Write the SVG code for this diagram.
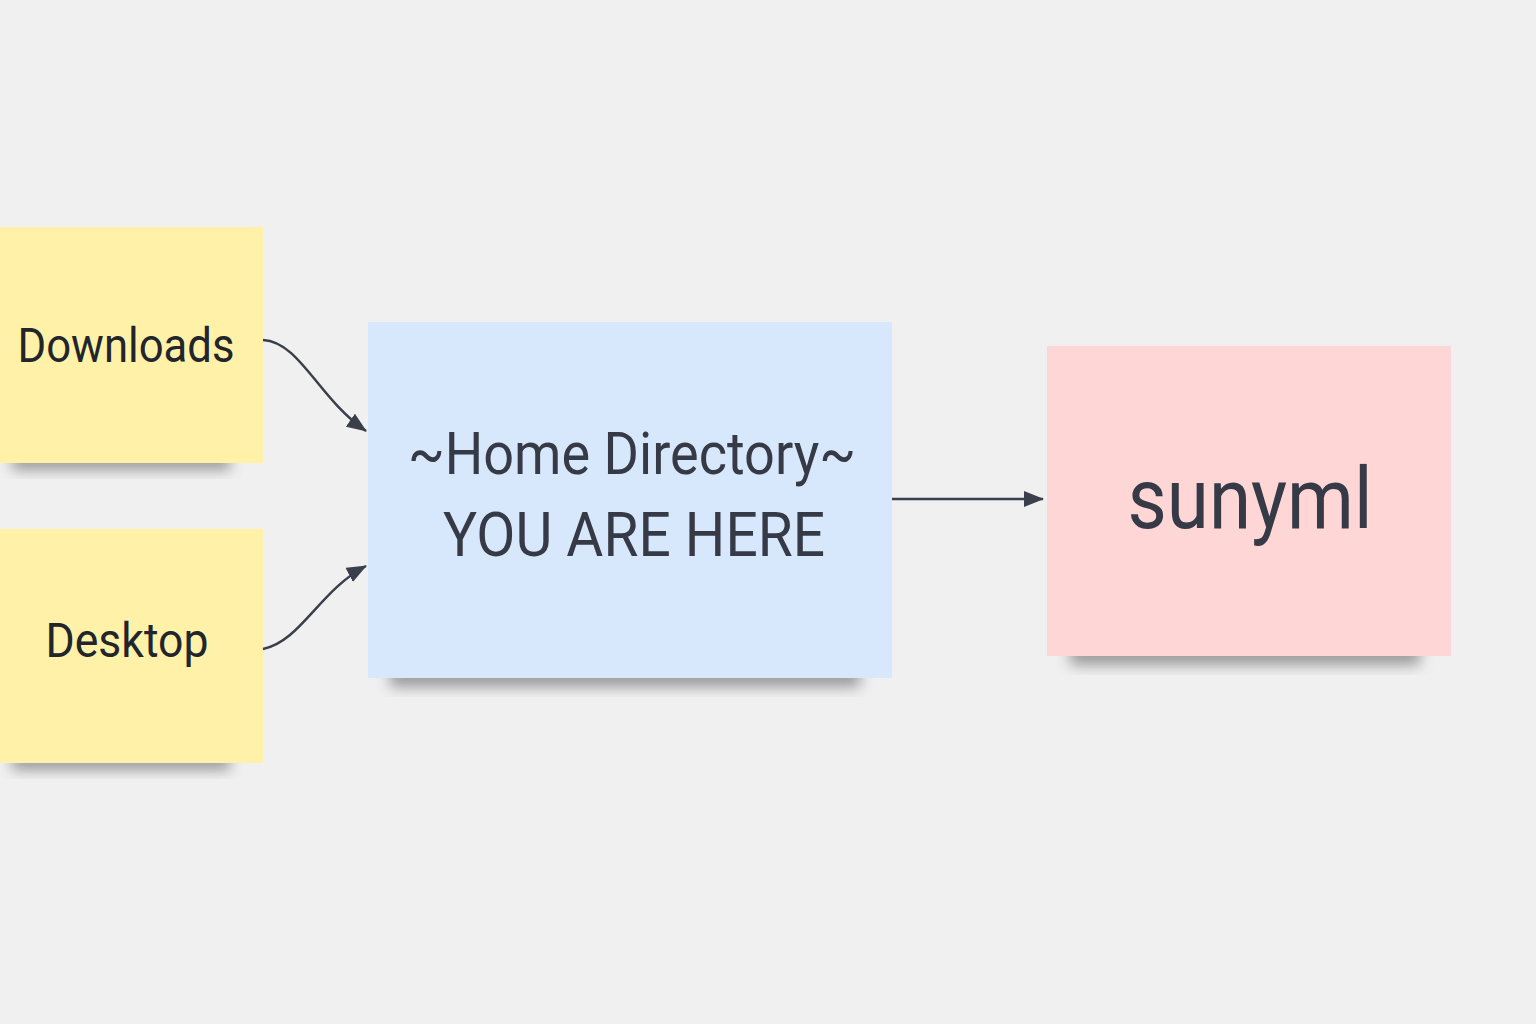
<svg xmlns="http://www.w3.org/2000/svg" width="1536" height="1024" viewBox="0 0 1536 1024">
<defs>
<style>
.lbl{font-family:Roboto,"Liberation Sans",sans-serif;fill:#353a46;text-anchor:middle}
.dark{fill:#22252b}
.con{fill:none;stroke:#3a3f4b;stroke-width:2.5}
.shd{fill:#444;opacity:0.5}
</style>
<filter id="sh" x="-20%" y="-50%" width="140%" height="200%">
<feGaussianBlur stdDeviation="7"/>
</filter>
<marker id="ah" viewBox="0 0 20 16" refX="19" refY="8" markerWidth="20" markerHeight="16" markerUnits="userSpaceOnUse" orient="auto">
<path d="M0,0 L20,8 L0,16 z" fill="#3a3f4b"/>
</marker>
</defs>
<rect width="1536" height="1024" fill="#f0f0f0"/>
<g id="downloads">
<rect x="12" y="452" width="218" height="18" class="shd" filter="url(#sh)"/>
<rect x="0" y="227" width="263" height="236" fill="#fff2a8"/>
<text class="lbl dark" x="126" y="362" font-size="49" textLength="217" lengthAdjust="spacingAndGlyphs">Downloads</text>
</g>
<g id="desktop">
<rect x="12" y="752" width="218" height="18" class="shd" filter="url(#sh)"/>
<rect x="0" y="529" width="263" height="234" fill="#fff2a8"/>
<text class="lbl dark" x="127" y="657" font-size="49" textLength="163" lengthAdjust="spacingAndGlyphs">Desktop</text>
</g>
<g id="home">
<rect x="390" y="667" width="470" height="20" class="shd" filter="url(#sh)"/>
<rect x="368" y="322" width="524" height="356" fill="#d7e8fc"/>
<text class="lbl" x="632" y="474" font-size="60" textLength="448" lengthAdjust="spacingAndGlyphs">~Home Directory~</text>
<text class="lbl" x="634" y="556" font-size="61" textLength="382" lengthAdjust="spacingAndGlyphs">YOU ARE HERE</text>
</g>
<g id="sunyml">
<rect x="1070" y="645" width="350" height="20" class="shd" filter="url(#sh)"/>
<rect x="1047" y="346" width="404" height="310" fill="#ffd6d6"/>
<text class="lbl" x="1250" y="528" font-size="86" textLength="245" lengthAdjust="spacingAndGlyphs">sunyml</text>
</g>
<g id="connectors">
<path class="con" d="M263,340 C300,342 318,398 366,431" marker-end="url(#ah)"/>
<path class="con" d="M263,649 C300,642 320,590 366,566" marker-end="url(#ah)"/>
<path class="con" d="M892,499 L1043,499" marker-end="url(#ah)"/>
</g>
</svg>
